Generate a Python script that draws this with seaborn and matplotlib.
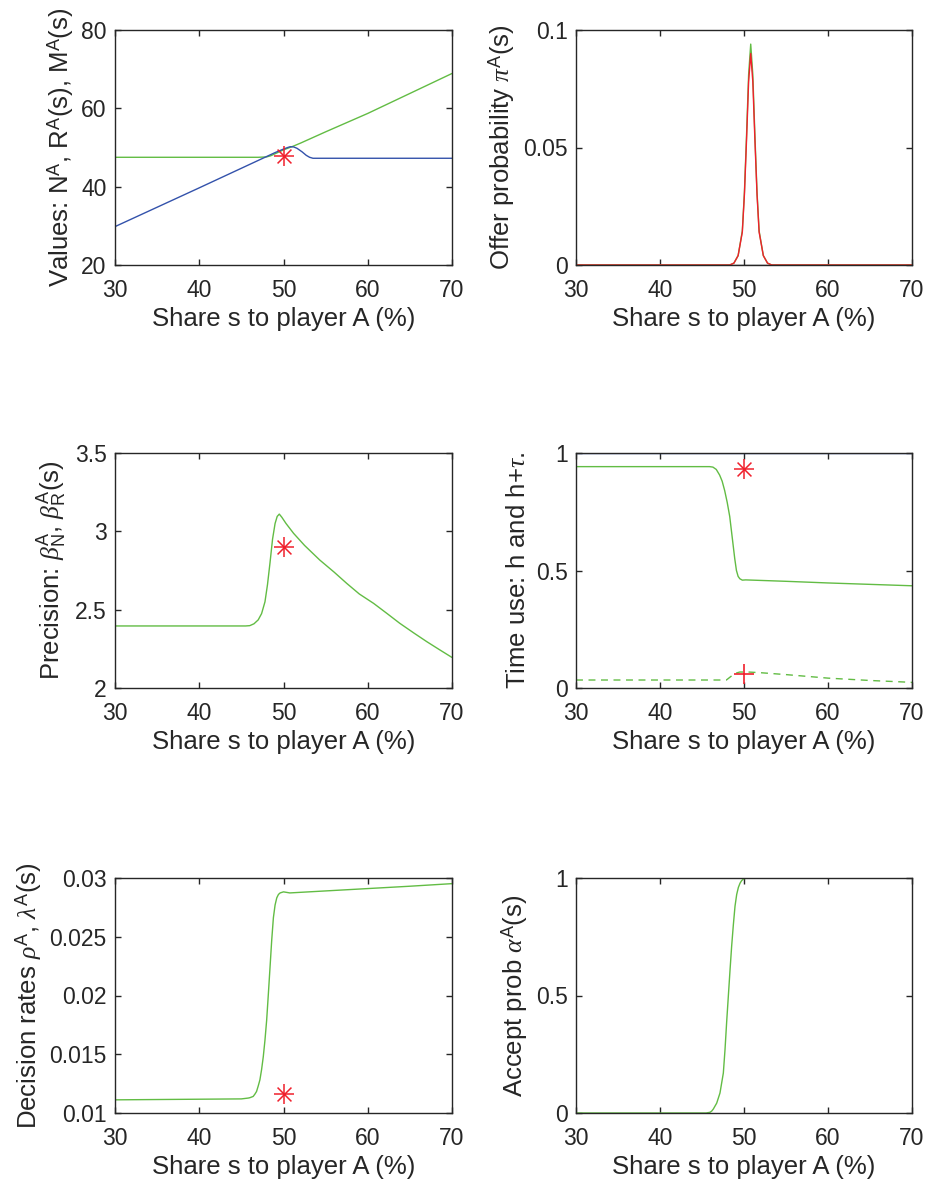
import numpy as np
import pandas as pd
import matplotlib
matplotlib.use("Agg")
import matplotlib.pyplot as plt
import seaborn as sns

# ---------------- data ----------------
# Panel 1: values
val_green_x = [30, 47, 48, 48.5, 49, 49.5, 50, 51, 52, 55, 60, 65, 70]
val_green_y = [47.5, 47.5, 47.6, 47.9, 48.4, 48.9, 49.4, 50.2, 51.1, 54.0, 58.7, 63.8, 68.9]
val_blue_x = [30, 40, 45, 48, 49, 50, 50.5, 50.8, 51.2, 51.6, 52.2, 52.7, 53.1, 53.5, 70]
val_blue_y = [29.8, 39.7, 44.7, 47.7, 48.7, 49.6, 50.0, 50.2, 50.15, 49.8, 48.9, 48.0, 47.5, 47.25, 47.25]
val_star = (50, 47.9)

# Panel 2: offer probability
offer_x = [30, 48.3, 48.8, 49.3, 49.8, 50.05, 50.3, 50.55, 50.8, 51.05, 51.3, 51.55, 51.8, 52.3, 52.8, 53.3, 70]
offer_red = [0, 0, 0.0008, 0.004, 0.014, 0.030, 0.053, 0.078, 0.090, 0.078, 0.053, 0.030, 0.014, 0.004, 0.0008, 0, 0]
offer_green = [0, 0, 0.0008, 0.004, 0.0145, 0.031, 0.055, 0.081, 0.094, 0.081, 0.055, 0.031, 0.0145, 0.004, 0.0008, 0, 0]
offer_black = [0] * len(offer_x)

# Panel 3: precision
prec_x = [30, 45.5, 46.0, 46.5, 47.0, 47.4, 47.8, 48.1, 48.4, 48.7, 49.0, 49.25, 49.5, 49.8, 50.3,
          51.2, 52.5, 54.3, 56.0, 57.5, 59.0, 60.7, 62.3, 63.8, 65.5, 67.0, 68.5, 70]
prec_y = [2.396, 2.396, 2.398, 2.41, 2.435, 2.475, 2.55, 2.66, 2.80, 2.95, 3.05, 3.095, 3.11, 3.09, 3.05,
          2.987, 2.91, 2.817, 2.74, 2.668, 2.60, 2.54, 2.475, 2.413, 2.35, 2.296, 2.245, 2.195]
prec_star = (50, 2.9)

# Panel 4: time use
time_blue_x = [30, 70]
time_blue_y = [1.0, 1.0]
time_h_x = [30, 45.9, 46.3, 46.7, 47.1, 47.4, 47.7, 48.0, 48.3, 48.6, 48.9, 49.1, 49.3, 49.5, 49.8,
            50.2, 55, 60, 65, 70]
time_h_y = [0.942, 0.942, 0.940, 0.930, 0.906, 0.880, 0.840, 0.790, 0.730, 0.640, 0.550, 0.500, 0.475,
            0.465, 0.459, 0.460, 0.454, 0.447, 0.441, 0.435]
time_tau_x = [30, 47.9, 48.9, 49.5, 50.5, 52, 55, 60, 65, 70]
time_tau_y = [0.034, 0.034, 0.062, 0.068, 0.068, 0.065, 0.057, 0.042, 0.032, 0.024]
time_star = (50, 0.93)
time_plus = (50, 0.06)

# Panel 5: decision rates
rate_x = [30, 45.0, 45.8, 46.0, 46.4, 46.6, 46.8, 47.0, 47.2, 47.4, 47.6, 47.8, 48.0, 48.2, 48.4,
          48.6, 48.8, 49.0, 49.2, 49.4, 49.6, 50.0, 50.75, 55, 60, 65, 70]
rate_y = [0.01112, 0.01120, 0.01127, 0.01130, 0.01141, 0.01160, 0.01183, 0.01230, 0.01282, 0.01370,
          0.01479, 0.01620, 0.01789, 0.02010, 0.02239, 0.02470, 0.02662, 0.02770, 0.02831, 0.02860,
          0.02873, 0.02882, 0.02873, 0.02890, 0.02910, 0.02930, 0.02952]
rate_star = (50, 0.0116)

# Panel 6: accept probability
acc_x = [30, 45.5, 45.95, 46.15, 46.35, 46.75, 47.14, 47.54, 47.74, 47.94, 48.14, 48.34, 48.53, 48.73,
         48.93, 49.13, 49.33, 49.53, 49.72, 49.95, 50.32, 70]
acc_y = [0, 0, 0.003, 0.008, 0.017, 0.042, 0.085, 0.17, 0.27, 0.39, 0.50, 0.61, 0.71, 0.80,
         0.88, 0.93, 0.96, 0.978, 0.989, 0.996, 1.0, 1.0]

xticks = [30, 40, 50, 60, 70]
xlabel = "Share s to player A (%)"

# ---------------- style ----------------
sns.set_style("ticks")
plt.rcParams["font.family"] = ["Liberation Sans", "DejaVu Sans"]
plt.rcParams["mathtext.fontset"] = "custom"
plt.rcParams["mathtext.rm"] = "Liberation Sans"
plt.rcParams["mathtext.sf"] = "Liberation Sans"
plt.rcParams["mathtext.it"] = "Liberation Serif:italic"
plt.rcParams["mathtext.bf"] = "Liberation Sans:bold"

GREEN = "#62bc44"
BLUE = "#3352ab"
RED = "#f0202c"
TXT = "#262626"
LW = 1.0

fig = plt.figure(figsize=(9.28, 11.86), dpi=100)
lefts = [115 / 928, 576 / 928]
widths = [337 / 928, 336 / 928]
bottoms = [1 - 265 / 1186, 1 - 688 / 1186, 1 - 1113 / 1186]
height = 235 / 1186

axes = []
for r in range(3):
    row = []
    for c in range(2):
        ax = fig.add_axes([lefts[c], bottoms[r], widths[c], height])
        row.append(ax)
    axes.append(row)


def line(ax, x, y, color, ls="-"):
    sns.lineplot(x=x, y=y, ax=ax, color=color, linewidth=LW, linestyle=ls,
                 estimator=None, sort=False, legend=False)


def star(ax, pt):
    sns.scatterplot(x=[pt[0]], y=[pt[1]], ax=ax, marker="+", s=190, color=RED,
                    linewidth=1.1, legend=False, zorder=5)
    sns.scatterplot(x=[pt[0]], y=[pt[1]], ax=ax, marker="x", s=100, color=RED,
                    linewidth=1.1, legend=False, zorder=5)


def plus(ax, pt):
    sns.scatterplot(x=[pt[0]], y=[pt[1]], ax=ax, marker="+", s=190, color=RED,
                    linewidth=1.2, legend=False, zorder=5)


def style(ax, ylim, yticks, yticklabels, ylabel):
    ax.set_xlim(30, 70)
    ax.set_ylim(*ylim)
    ax.set_xticks(xticks)
    ax.set_xticklabels([str(t) for t in xticks])
    ax.set_yticks(yticks)
    ax.set_yticklabels(yticklabels)
    ax.tick_params(direction="in", length=4, width=1, colors=TXT, labelsize=16.5,
                   top=True, right=True)
    ax.tick_params(axis="x", pad=10)
    ax.tick_params(axis="y", pad=6)
    for sp in ax.spines.values():
        sp.set_visible(True)
        sp.set_color(TXT)
        sp.set_linewidth(1.0)
    ax.set_xlabel(xlabel, fontsize=18.5, color=TXT, labelpad=4)
    ax.set_ylabel(ylabel, fontsize=18.5, color=TXT, labelpad=4)


# Panel 1
ax = axes[0][0]
line(ax, val_green_x, val_green_y, GREEN)
line(ax, val_blue_x, val_blue_y, BLUE)
star(ax, val_star)
style(ax, (20, 80), [20, 40, 60, 80], ["20", "40", "60", "80"],
      r"Values: N$^{\mathrm{A}}$, R$^{\mathrm{A}}$(s), M$^{\mathrm{A}}$(s)")

# Panel 2
ax = axes[0][1]
line(ax, offer_x, offer_black, "#222222")
line(ax, offer_x, offer_green, GREEN)
line(ax, offer_x, offer_red, RED)
style(ax, (0, 0.1), [0, 0.05, 0.1], ["0", "0.05", "0.1"],
      r"Offer probability $\pi^{\mathrm{A}}$(s)")

# Panel 3
ax = axes[1][0]
line(ax, prec_x, prec_y, GREEN)
star(ax, prec_star)
style(ax, (2, 3.5), [2, 2.5, 3, 3.5], ["2", "2.5", "3", "3.5"],
      r"Precision: $\beta^{\mathrm{A}}_{\mathrm{N}}$, $\beta^{\mathrm{A}}_{\mathrm{R}}$(s)")

# Panel 4
ax = axes[1][1]
line(ax, time_blue_x, time_blue_y, BLUE)
line(ax, time_h_x, time_h_y, GREEN)
line(ax, time_tau_x, time_tau_y, GREEN, ls=(0, (5, 4)))
star(ax, time_star)
plus(ax, time_plus)
style(ax, (0, 1), [0, 0.5, 1], ["0", "0.5", "1"],
      r"Time use: h and h+$\tau$.")

# Panel 5
ax = axes[2][0]
line(ax, rate_x, rate_y, GREEN)
star(ax, rate_star)
style(ax, (0.01, 0.03), [0.01, 0.015, 0.02, 0.025, 0.03],
      ["0.01", "0.015", "0.02", "0.025", "0.03"],
      r"Decision rates $\rho^{\mathrm{A}}$, $\lambda^{\mathrm{A}}$(s)")

# Panel 6
ax = axes[2][1]
line(ax, acc_x, acc_y, GREEN)
style(ax, (0, 1), [0, 0.5, 1], ["0", "0.5", "1"],
      r"Accept prob $\alpha^{\mathrm{A}}$(s)")

fig.savefig("out.png", dpi=100)
